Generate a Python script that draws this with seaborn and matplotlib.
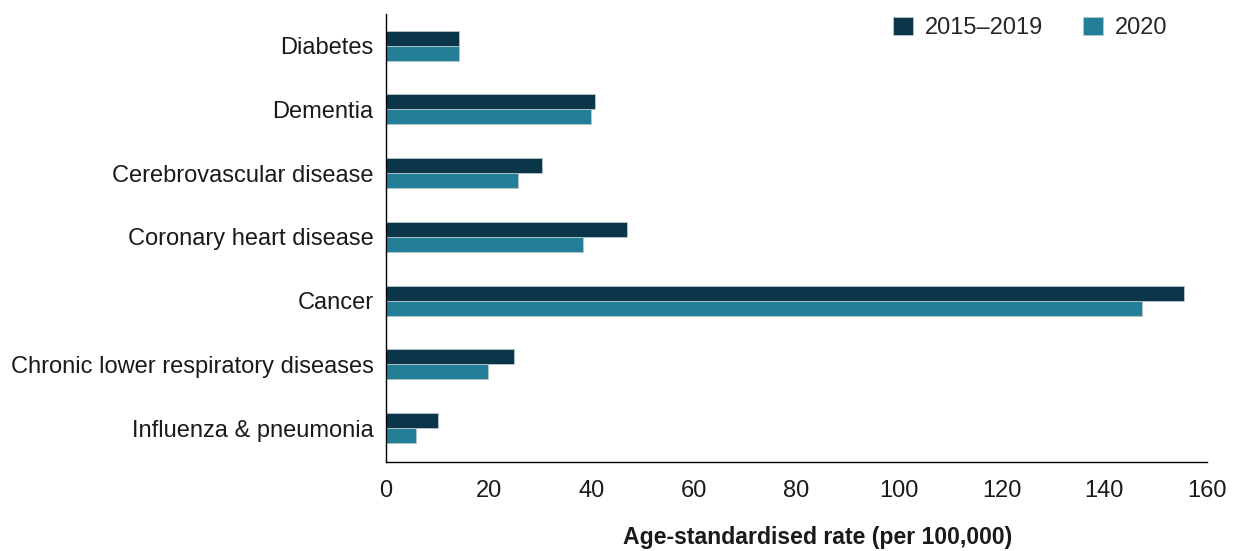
import matplotlib.pyplot as plt
import pandas as pd
import seaborn as sns

causes = ['Diabetes', 'Dementia', 'Cerebrovascular disease', 'Coronary heart disease',
          'Cancer', 'Chronic lower respiratory diseases', 'Influenza & pneumonia']
periods = ['2015\u20132019', '2020']
rate_2015_2019 = [14.3, 40.8, 30.4, 46.9, 155.5, 24.9, 10.1]
rate_2020 = [14.3, 40.0, 25.7, 38.4, 147.3, 19.8, 5.8]
x_ticks = [0, 20, 40, 60, 80, 100, 120, 140, 160]

df = pd.DataFrame({
    'cause': causes * 2,
    'period': [periods[0]] * len(causes) + [periods[1]] * len(causes),
    'rate': rate_2015_2019 + rate_2020,
})

sns.set_theme(style='white')
plt.rcParams['font.family'] = ['Liberation Sans', 'DejaVu Sans']

fig = plt.figure(figsize=(12.39, 5.51), dpi=100)
ax = fig.add_axes([0.3115, 0.1615, 0.9742 - 0.3115, 0.975 - 0.1615])

sns.barplot(data=df, y='cause', x='rate', hue='period', order=causes, hue_order=periods,
            palette=['#0b3549', '#237f98'], saturation=1, width=0.47,
            edgecolor='#b7c7cf', linewidth=0.6, ax=ax)

ax.set_xlim(0, 160)
ax.set_ylim(6.53, -0.5)
ax.set_xticks(x_ticks)
ax.set_xticklabels([str(t) for t in x_ticks], fontsize=17)
ax.tick_params(axis='x', direction='out', length=6, width=1, color='black', pad=7)
ax.tick_params(axis='y', length=0, pad=9, labelsize=17)
for label in ax.get_yticklabels() + ax.get_xticklabels():
    label.set_color('#1a1a1a')

ax.set_ylabel('')
ax.set_xlabel('Age-standardised rate (per 100,000)', fontsize=16.6, fontweight='bold',
              labelpad=17, color='#1a1a1a')
ax.xaxis.label.set_x(0.5256)

sns.despine(ax=ax)
for side in ['left', 'bottom']:
    ax.spines[side].set_color('black')
    ax.spines[side].set_linewidth(1)

ax.legend(loc='upper right', bbox_to_anchor=(0.977, 1.041), ncol=2, frameon=False,
          fontsize=17, handlelength=0.85, handleheight=0.85, handletextpad=0.5,
          columnspacing=1.66)

fig.savefig('out.png', dpi=100)
